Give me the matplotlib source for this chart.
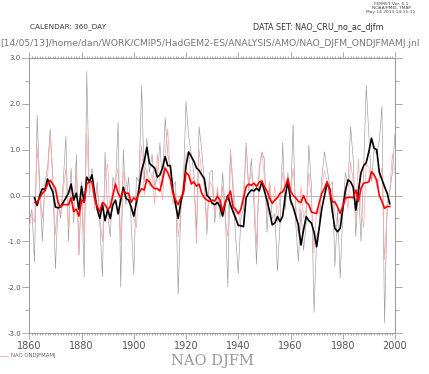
import matplotlib
matplotlib.use("Agg")
import matplotlib.pyplot as plt
from matplotlib.ticker import MultipleLocator, FormatStrFormatter

# annual values, 1860-2000
YEARS = list(range(1860, 2001))
NAO_DJFM = [
    -0.55, -0.3, -1.45, 1.75, 0.2, -1.0, 0.3, 0.6, 1.45, 0.4,
    -1.6, -0.2, -0.5, 0.3, 1.3, -1.0, 0.6, -0.6, 0.9, -1.3,
    0.3, -1.78, 2.7, 0.1, 0.6, -0.2, 0.3, -0.6, -1.77, 0.95,
    -0.4, -0.9, 0.4, 0.2, 1.6, -2.0, 1.0, -0.2, 0.4, -0.6,
    -1.72, 0.4, 0.3, 2.4, 0.3, 1.25, 0.5, 0.9, 0.2, 0.4,
    1.15, 0.2, 1.7, 0.9, 0.6, 0.2, 0.3, -2.15, -0.3, 0.3,
    2.05, 1.3, 0.9, 0.5, -0.8, 1.5, 1.0, 0.3, -0.85, 0.5,
    0.55, -0.6, 0.1, -0.5, 0.5, -0.3, -2.0, 1.0, 0.1, -0.9,
    -1.7, -0.5, -0.3, 1.15, 0.1, 0.8, -0.2, -1.5, 0.6, 0.95,
    0.8, -0.8, 0.2, -0.5, -0.4, -1.65, -0.6, 1.15, -0.3, 0.5,
    -0.2, 1.55, -0.6, -1.45, -0.3, -1.2, -0.6, 1.1, 0.2, -2.55,
    -0.9, -0.7, 0.4, 0.95, 0.6, 0.2, 0.3, -1.55, -0.3, -1.8,
    -0.4, 0.5, 0.2, 1.5, 0.8, -0.9, 0.2, -1.0, 0.6, 2.4,
    1.3, 0.3, 1.0, 0.9, 1.2, 1.95, -2.78, -0.2, 0.1, 0.5,
    1.35,
]
NAO_ONDJFMAMJ = [
    -0.7, -0.4, -0.6, 1.05, 0.1, -0.5, 0.2, 0.4, 1.35, 0.3,
    -0.85, -0.1, -0.4, 0.1, 0.6, -0.75, 0.3, -0.5, 0.55, -1.3,
    0.1, -0.9, 1.35, 0.0, 0.4, -0.3, 0.2, -0.5, -1.0, 0.4,
    0.7, -0.6, 0.2, 0.3, 0.6, -1.0, 0.5, 0.35, -0.1, -0.3,
    -0.5, -0.7, 0.4, 1.1, 0.0, 0.6, 0.2, 0.5, -0.2, 0.9,
    0.3, -0.1, 0.9, 1.45, 0.4, -0.2, 0.1, -0.9, -0.4, 0.4,
    0.9, 0.95, 0.3, 0.4, -1.05, 1.0, 0.5, 0.2, -0.6, 0.3,
    0.2, -0.4, 0.2, -0.3, 0.2, -0.5, -0.9, 1.0, 0.3, -0.4,
    -0.7, -0.3, 0.1, 1.05, 0.2, 0.5, 0.1, -1.1, 0.5, 0.95,
    0.4, -0.4, 0.3, -0.2, 0.2, -0.6, 0.0, 0.5, 0.2, 0.4,
    0.1, 0.6, -0.2, -0.9, 0.2, -0.5, -0.3, 0.5, -0.1, -1.25,
    -0.3, -0.4, 0.2, 0.55, 0.3, -0.1, 0.2, -0.4, -0.6, -0.5,
    -0.1, 0.2, -0.3, 0.75, 0.3, -0.5, 0.8, -0.3, -0.7, 0.7,
    0.6, 0.3, 0.5, 0.2, 0.4, 0.6, -1.4, -0.3, 0.1, 0.9,
    0.5,
]

# 5-yr smoothed, 1862-1998
YEARS_SM = list(range(1862, 1999))
DJFM_SM = [
    -0.05, -0.22, 0.0, 0.15, 0.12, 0.36, 0.2, 0.08,
    -0.25, -0.27, -0.25, -0.15, -0.05, 0.05, 0.25, -0.1, 0.05, -0.3,
    0.2, -0.15, 0.4, 0.3, 0.45, 0.05, -0.3, -0.5, -0.2, -0.55,
    -0.3, -0.5, -0.2, -0.1, -0.4, -0.1, 0.18, -0.06, -0.1, -0.25,
    -0.45, -0.15, 0.15, 0.55, 0.75, 1.05, 0.7, 0.65, 0.6, 0.4,
    0.45, 0.6, 0.85, 0.65, 0.65, 0.1, -0.2, -0.5, -0.15, 0.1,
    0.65, 0.95, 0.85, 0.75, 0.6, 0.55, 0.45, 0.37, 0.0, -0.05,
    -0.17, -0.2, -0.15, -0.24, -0.45, -0.17, 0.0, -0.2, -0.35, -0.5,
    -0.65, -0.66, -0.68, -0.05, 0.05, 0.12, 0.1, 0.16, 0.1, 0.3,
    0.1, -0.1, -0.35, -0.64, -0.6, -0.46, -0.57, -0.45, 0.0, 0.3,
    -0.1, -0.25, -0.45, -0.64, -1.08, -0.75, -0.46, -0.55, -0.6, -0.8,
    -1.12, -0.7, -0.28, 0.0, 0.27, 0.15, -0.35, -0.72, -0.79, -0.72,
    -0.3, 0.1, 0.34, 0.3, 0.18, -0.32, 0.1, 0.5, 0.65, 0.72,
    0.96, 1.25, 1.03, 1.0, 0.5, 0.35, 0.19, 0.05, -0.18,
]
ONDJFMAMJ_SM = [
    -0.15, -0.15, -0.05, 0.05, 0.1, 0.25, 0.33, 0.25,
    0.15, -0.15, -0.25, -0.2, -0.2, -0.2, -0.05, -0.35, -0.3, -0.45,
    -0.1, -0.15, 0.25, 0.3, 0.3, -0.05, -0.25, -0.35, -0.15, -0.2,
    -0.3, -0.25, 0.0, 0.25, 0.05, -0.05, 0.1, 0.05, 0.05, -0.15,
    -0.05, -0.1, 0.05, 0.15, 0.12, 0.35, 0.3, 0.2, 0.15, 0.15,
    0.1, 0.35, 0.6, 0.5, 0.35, 0.05, -0.1, -0.2, -0.05, 0.05,
    0.5, 0.45, 0.25, 0.3, 0.2, 0.25, 0.05, -0.05, -0.1, -0.13,
    -0.1, -0.12, -0.02, -0.1, -0.35, -0.15, -0.05, 0.1, -0.25, -0.3,
    -0.4, -0.3, -0.05, 0.19, 0.25, 0.22, 0.27, 0.2, 0.29, 0.32,
    0.19, 0.1, -0.06, -0.17, -0.1, -0.05, 0.05, 0.08, 0.2, 0.37,
    0.1, 0.0, -0.05, -0.13, -0.15, 0.0, -0.15, -0.2, -0.36, -0.38,
    -0.39, -0.15, 0.05, 0.16, 0.3, 0.1, -0.14, -0.14, -0.25, -0.39,
    -0.24, -0.06, -0.04, -0.04, -0.05, 0.12, -0.13, 0.16, 0.27, 0.28,
    0.3, 0.52, 0.45, 0.34, 0.0, -0.13, -0.28, -0.24, -0.24,
]

GREY, PINK, AXC = "#9a9a9a", "#ffa6a6", "#888888"

fig = plt.figure(figsize=(4.29, 3.74), dpi=100)
ax = fig.add_axes([29.3 / 429, 1 - 333 / 374, (395 - 29.3) / 429, (333 - 58) / 374])

ax.axhline(0, color="#aaaaaa", lw=0.6, zorder=1)
ax.plot(YEARS, NAO_DJFM, color=GREY, lw=0.45, zorder=2)
ax.plot(YEARS, NAO_ONDJFMAMJ, color=PINK, lw=0.5, zorder=3)
ax.plot(YEARS_SM, DJFM_SM, color="black", lw=1.2, zorder=4)
ax.plot(YEARS_SM, ONDJFMAMJ_SM, color="red", lw=1.2, zorder=5)

ax.set_xlim(1860, 2000)
ax.set_ylim(-3, 3)
ax.xaxis.set_major_locator(MultipleLocator(20))
ax.xaxis.set_minor_locator(MultipleLocator(1))
ax.yaxis.set_major_locator(MultipleLocator(1))
ax.yaxis.set_minor_locator(MultipleLocator(0.5))
ax.yaxis.set_major_formatter(FormatStrFormatter("%.1f"))

for s in ax.spines.values():
    s.set_color(AXC); s.set_linewidth(0.6)
ax.tick_params(axis="x", which="both", direction="out", top=True, bottom=True,
               colors=AXC, width=0.5, labelcolor="#555555", labelsize=7, pad=2)
ax.tick_params(axis="x", which="major", length=4)
ax.tick_params(axis="x", which="minor", length=1.5)
ax.tick_params(axis="y", which="both", direction="out", left=True, right=True,
               colors=AXC, width=0.5, labelcolor="#555555", labelsize=5, pad=1)
ax.tick_params(axis="y", which="major", length=5)
ax.tick_params(axis="y", which="minor", length=3)

# header / footer texts
fig.text(391 / 429, 1 - 8 / 374, "FERRET Ver. 6.1\nNOAA/PMEL TMAP\nMay 14 2013 14:15:11",
         fontsize=3.2, ha="center", va="center", color="#444444", linespacing=1.1)
fig.text(30 / 429, 1 - 27 / 374, "CALENDAR: 360_DAY", fontsize=5.2, color="#333333", va="center")
fig.text(253 / 429, 1 - 27 / 374, "DATA SET: NAO_CRU_no_ac_djfm", fontsize=5.8, color="#333333", va="center")
fig.text(0.0, 1 - 43 / 374,
         "[14/05/13]/home/dan/WORK/CMIP5/HadGEM2-ES/ANALYSIS/AMO/NAO_DJFM_ONDJFMAMJ.jnl",
         fontsize=6.65, color="#777777", va="center")
fig.lines.append(plt.Line2D([0, 8 / 429], [1 - 356 / 374] * 2, color=PINK, lw=0.6,
                            transform=fig.transFigure))
fig.text(11 / 429, 1 - 356 / 374, "NAO ONDJFMAMJ", fontsize=3.9, color="#666666", va="center")
fig.text(212 / 429, 1 - 361 / 374, "NAO DJFM", fontsize=10.5, color="#999999",
         ha="center", va="center", family="DejaVu Serif")

fig.savefig("out.png", dpi=100)
